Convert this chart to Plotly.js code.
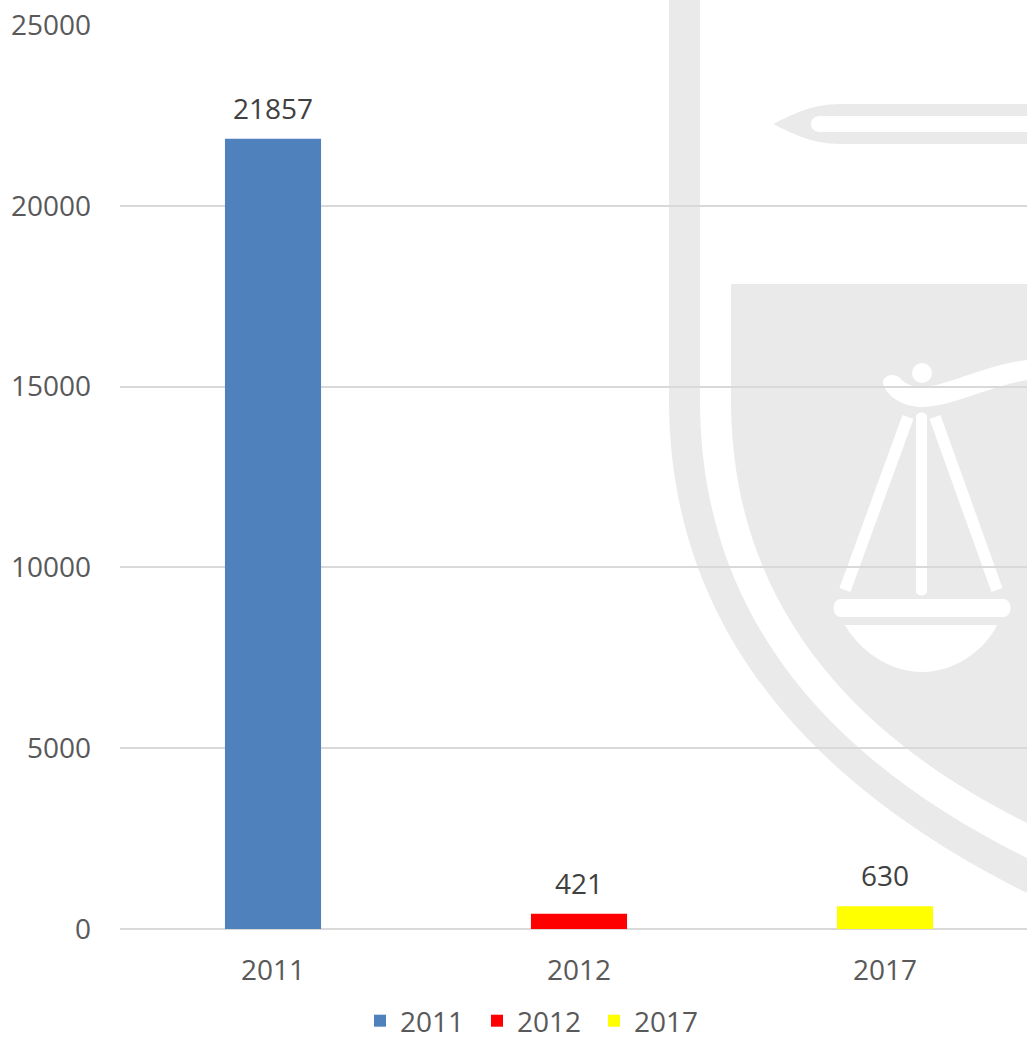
<!DOCTYPE html>
<html>
<head>
<meta charset="utf-8">
<script src="https://cdn.plot.ly/plotly-3.0.1.min.js"></script>
<style>
  html, body { margin: 0; padding: 0; background: #ffffff; overflow: hidden; }
  #chart { width: 1027px; height: 1046px; }
</style>
</head>
<body>
<div id="chart"></div>
<script>
// ---- data ----
const categories = ["2011", "2012", "2017"];
const values = [21857, 421, 630];
const seriesNames = ["2011", "2012", "2017"];
const seriesColors = ["#4f81bd", "#ff0000", "#ffff00"];
const yTickValues = [0, 5000, 10000, 15000, 20000, 25000];
const yTickLabels = ["0", "5000", "10000", "15000", "20000", "25000"];

// ---- layout geometry ----
const W = 1027, H = 1046;
const M = { l: 120, r: 0, t: 25, b: 117 };
const PW = W - M.l - M.r, PH = H - M.t - M.b;
const fx = px => (px - M.l) / PW;
const fy = py => 1 - (py - M.t) / PH;
const toPaper = s => s.replace(/(-?[\d.]+),(-?[\d.]+)/g, (m, x, y) => fx(+x).toFixed(5) + "," + fy(+y).toFixed(5));

const GRAY = "#eaeaea";
const WHITE = "#ffffff";
function pathShape(d, color) {
  return { type: "path", xref: "paper", yref: "paper", layer: "below",
           path: toPaper(d), fillcolor: color, line: { width: 0 } };
}
// decorative watermark (background logo)
const shapes = [
  pathShape("M669,0 L700,0 L700,400 C700,640 860,775 1027,858 L1027,893 C840,800 669,650 669,400 Z", GRAY),
  pathShape("M731,284 L1027,284 L1027,823 C880,750 731,625 731,400 Z", GRAY),
  pathShape("M773,124 C790,116 810,104 840,104 L1027,104 L1027,144 L840,144 C810,144 790,132 773,124 Z", GRAY),
  pathShape("M820,116 L1027,116 L1027,132 L820,132 C808,132 808,116 820,116 Z", WHITE),
  pathShape("M883,383 C883,376 893,372 900,378 C905,384 912,387 922,387 C945,387 985,365 1027,360 L1027,380 C990,386 950,407 922,407 C905,407 887,398 883,383 Z", WHITE),
  pathShape("M916,417 C916,411 927,411 927,417 L927,591 C927,597 916,597 916,591 Z", WHITE),
  pathShape("M913.5,419 L850.5,592 L839.5,588 L902.5,415 Z", WHITE),
  pathShape("M940.5,415 L1002.5,588 L991.5,592 L929.5,419 Z", WHITE),
  pathShape("M841,599 L1003,599 C1013,599 1013,617 1003,617 L841,617 C831,617 831,599 841,599 Z", WHITE),
  pathShape("M845,625 L997,625 C985,650 955,672 922,672 C889,672 859,650 845,625 Z", WHITE),
  { type: "circle", xref: "paper", yref: "paper", layer: "below",
    x0: fx(912), x1: fx(932), y0: fy(383), y1: fy(363), fillcolor: WHITE, line: { width: 0 } }
];

const FONT = "'Open Sans', 'Noto Sans', sans-serif";

const traces = categories.map((c, i) => ({
  type: "bar",
  x: [c],
  y: [values[i]],
  name: seriesNames[i],
  marker: { color: seriesColors[i] },
  width: 0.314,
  hoverinfo: "x+y"
}));

const annotations = categories.map((c, i) => ({
  x: i, y: values[i], xref: "x", yref: "y",
  text: String(values[i]), showarrow: false,
  yanchor: "bottom", yshift: 10,
  font: { family: FONT, size: 28, color: "#404040" }
}));

const layout = {
  width: W, height: H,
  margin: M,
  paper_bgcolor: "rgba(0,0,0,0)",
  plot_bgcolor: "rgba(0,0,0,0)",
  font: { family: FONT, size: 28, color: "#595959" },
  barmode: "overlay",
  showlegend: true,
  legend: {
    orientation: "h", xref: "container", yref: "container",
    x: 360 / W, xanchor: "left", y: -4 / H, yanchor: "bottom",
    entrywidth: 72, entrywidthmode: "pixels",
    font: { family: FONT, size: 28, color: "#595959" },
    bgcolor: "rgba(0,0,0,0)", itemclick: false, itemdoubleclick: false
  },
  xaxis: {
    type: "category", range: [-0.5, 2.464], fixedrange: true,
    showgrid: false, zeroline: false, showline: false, ticks: "",
    ticklabelstandoff: 22,
    tickfont: { family: FONT, size: 28, color: "#595959" },
    automargin: false
  },
  yaxis: {
    range: [0, 25000], tickvals: yTickValues, ticktext: yTickLabels, fixedrange: true,
    showgrid: true, gridcolor: "#d9d9d9", gridwidth: 2,
    zeroline: true, zerolinecolor: "#d9d9d9", zerolinewidth: 2,
    showline: false, ticks: "",
    ticklabelstandoff: 28,
    tickfont: { family: FONT, size: 28, color: "#595959" },
    automargin: false
  },
  shapes: shapes,
  annotations: annotations
};

Plotly.newPlot("chart", traces, layout, { displayModeBar: false, staticPlot: true });
</script>
</body>
</html>
